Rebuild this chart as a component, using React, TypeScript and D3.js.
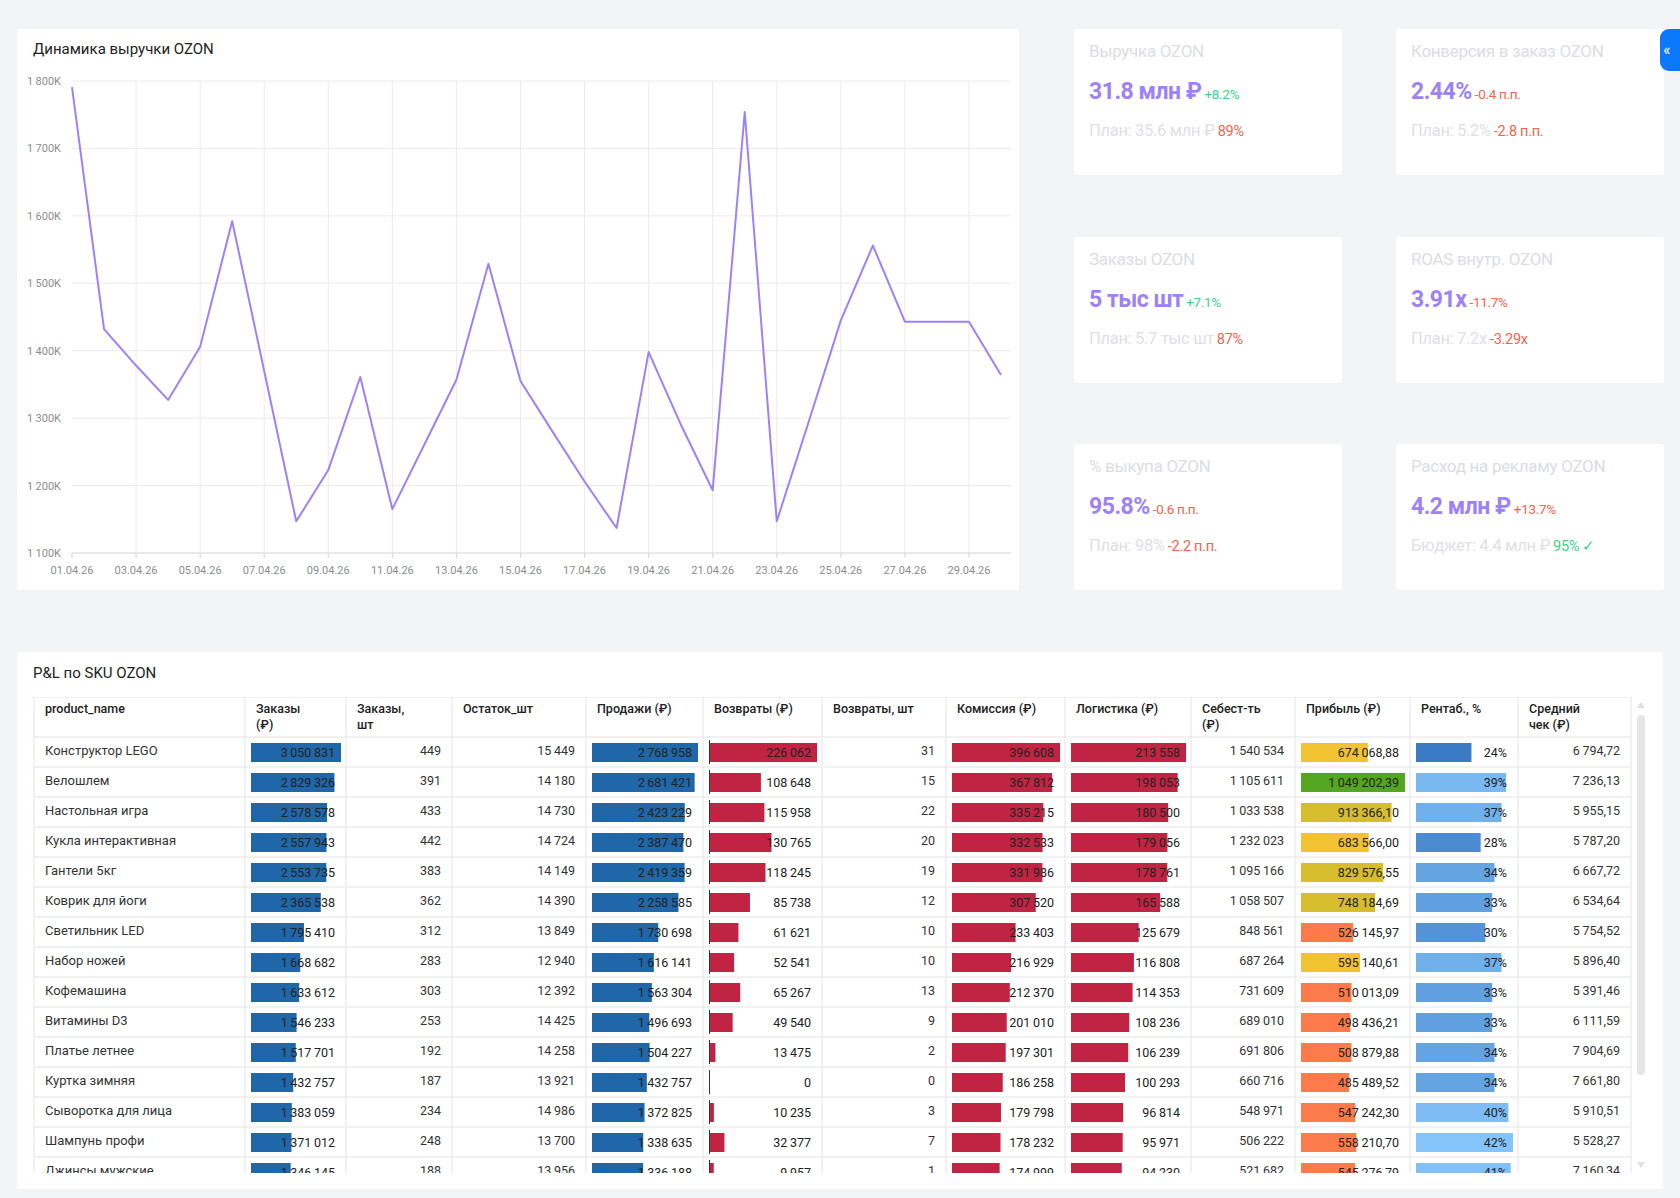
import React from "react";
import * as d3 from "d3";

// ---- line chart data (thousands of rubles per day)
const days = [
	"01.04.26", "02.04.26", "03.04.26", "04.04.26", "05.04.26", "06.04.26", "07.04.26", "08.04.26", "09.04.26", "10.04.26",
	"11.04.26", "12.04.26", "13.04.26", "14.04.26", "15.04.26", "16.04.26", "17.04.26", "18.04.26", "19.04.26", "20.04.26",
	"21.04.26", "22.04.26", "23.04.26", "24.04.26", "25.04.26", "26.04.26", "27.04.26", "28.04.26", "29.04.26", "30.04.26",
];
const revenueK = [
	1791, 1432, 1378, 1327, 1406, 1592, 1370, 1147, 1223, 1361,
	1165, 1261, 1357, 1529, 1355, 1280, 1206, 1137, 1398, 1291,
	1193, 1754, 1147, 1295, 1445, 1556, 1443, 1443, 1443, 1364,
];
const yTicks = [1100, 1200, 1300, 1400, 1500, 1600, 1700, 1800];

// ---- KPI cards
const kpiTitles = ["Выручка OZON", "Конверсия в заказ OZON", "Заказы OZON", "ROAS внутр. OZON", "% выкупа OZON", "Расход на рекламу OZON"];
const kpiValues = ["31.8 млн ₽", "2.44%", "5 тыс шт", "3.91x", "95.8%", "4.2 млн ₽"];
const kpiDeltas = ["+8.2%", "-0.4 п.п.", "+7.1%", "-11.7%", "-0.6 п.п.", "+13.7%"];
const kpiDeltaOk = [true, false, true, false, false, false];
const kpiPlans = ["План: 35.6 млн ₽", "План: 5.2%", "План: 5.7 тыс шт", "План: 7.2x", "План: 98%", "Бюджет: 4.4 млн ₽"];
const kpiPlanDeltas = ["89%", "-2.8 п.п.", "87%", "-3.29x", "-2.2 п.п.", "95% ✓"];
const kpiPlanOk = [false, false, false, false, false, true];

// ---- P&L table
const tableHeaders = [
	["product_name"], ["Заказы", "(₽)"], ["Заказы,", "шт"], ["Остаток_шт"], ["Продажи (₽)"], ["Возвраты (₽)"],
	["Возвраты, шт"], ["Комиссия (₽)"], ["Логистика (₽)"], ["Себест-ть", "(₽)"], ["Прибыль (₽)"], ["Рентаб., %"], ["Средний", "чек (₽)"],
];
const products = [
	"Конструктор LEGO", "Велошлем", "Настольная игра", "Кукла интерактивная", "Гантели 5кг", "Коврик для йоги", "Светильник LED",
	"Набор ножей", "Кофемашина", "Витамины D3", "Платье летнее", "Куртка зимняя", "Сыворотка для лица", "Шампунь профи", "Джинсы мужские",
];
const ordersRub = [3050831, 2829326, 2578578, 2557943, 2553735, 2365538, 1795410, 1668682, 1633612, 1546233, 1517701, 1432757, 1383059, 1371012, 1346145];
const ordersQty = [449, 391, 433, 442, 383, 362, 312, 283, 303, 253, 192, 187, 234, 248, 188];
const stockQty = [15449, 14180, 14730, 14724, 14149, 14390, 13849, 12940, 12392, 14425, 14258, 13921, 14986, 13700, 13956];
const salesRub = [2768958, 2681421, 2423229, 2387470, 2419359, 2258585, 1730698, 1616141, 1563304, 1496693, 1504227, 1432757, 1372825, 1338635, 1336188];
const returnsRub = [226062, 108648, 115958, 130765, 118245, 85738, 61621, 52541, 65267, 49540, 13475, 0, 10235, 32377, 9957];
const returnsQty = [31, 15, 22, 20, 19, 12, 10, 10, 13, 9, 2, 0, 3, 7, 1];
const commissionRub = [396608, 367812, 335215, 332533, 331986, 307520, 233403, 216929, 212370, 201010, 197301, 186258, 179798, 178232, 174999];
const logisticsRub = [213558, 198053, 180500, 179056, 178761, 165588, 125679, 116808, 114353, 108236, 106239, 100293, 96814, 95971, 94230];
const costRub = [1540534, 1105611, 1033538, 1232023, 1095166, 1058507, 848561, 687264, 731609, 689010, 691806, 660716, 548971, 506222, 521682];
const profitRub = [674068.88, 1049202.39, 913366.1, 683566.0, 829576.55, 748184.69, 526145.97, 595140.61, 510013.09, 498436.21, 508879.88, 485489.52, 547242.3, 558210.7, 545276.79];
const marginPct = [24, 39, 37, 28, 34, 33, 30, 37, 33, 33, 34, 34, 40, 42, 41];
const avgCheckRub = [6794.72, 7236.13, 5955.15, 5787.2, 6667.72, 6534.64, 5754.52, 5896.4, 5391.46, 6111.59, 7904.69, 7661.8, 5910.51, 5528.27, 7160.34];

const W = 1680;
const H = 1198;
const FONT = "Roboto, 'Noto Sans', sans-serif";
const PURPLE = "#9d82f5";
const GREEN = "#3ccf8e";
const RED = "#f4634c";

const ru = d3.formatLocale({ decimal: ",", thousands: "\u2009", grouping: [3], currency: ["", ""] });
const fmtInt = ru.format(",d");
const fmt2 = ru.format(",.2f");
const fmtK = (v: number) => ru.format(",d")(v) + "K";
const fmtPct = (v: number) => v + "%";

const RevenueChart = () => {
	const x = d3.scalePoint<string>().domain(days).range([72, 1001]);
	const y = d3.scaleLinear().domain([1100, 1800]).range([553, 81]);
	const line = d3
		.line<number>()
		.x((_, i) => x(days[i]) as number)
		.y((d) => y(d));
	const tickDays = days.filter((_, i) => i % 2 === 0);

	return (
		<g>
			<rect x={17} y={29} width={1002} height={561} fill="#fff" rx={2} />
			<text x={33} y={54} fontSize={15} fill="#222">Динамика выручки OZON</text>
			{yTicks.map((t) => (
				<g key={t}>
					<line x1={72} x2={1011} y1={y(t)} y2={y(t)} stroke={t === 1100 ? "#d3d3d3" : "#ebebeb"} />
					<text x={61} y={y(t) + 4} fontSize={11} fill="#8c8c8c" textAnchor="end">{fmtK(t)}</text>
				</g>
			))}
			{tickDays.map((d) => (
				<g key={d}>
					{d !== days[0] && <line x1={x(d)} x2={x(d)} y1={81} y2={553} stroke="#ebebeb" />}
					<line x1={x(d)} x2={x(d)} y1={553} y2={558} stroke="#d3d3d3" />
					<text x={x(d)} y={574} fontSize={11} fill="#8c8c8c" textAnchor="middle">{d}</text>
				</g>
			))}
			<path d={line(revenueK) || ""} fill="none" stroke={PURPLE} strokeWidth={2} strokeLinejoin="round" />
		</g>
	);
};

const KpiCards = () => {
	const colX = [1074, 1396];
	const rowY = [29, 237, 444];
	return (
		<g>
			{kpiTitles.map((title, i) => {
				const cx = colX[i % 2];
				const cy = rowY[Math.floor(i / 2)];
				return (
					<g key={title}>
						<rect x={cx} y={cy} width={268} height={146} fill="#fff" rx={3} />
						<text x={cx + 15} y={cy + 28} fontSize={17} fill="#dcdde2" letterSpacing={-0.3}>{title}</text>
						<text x={cx + 15} y={cy + 70}>
							<tspan fontSize={23} fontWeight={700} fill={PURPLE} letterSpacing={-0.5}>{kpiValues[i]}</tspan>
							<tspan dx={3} fontSize={13.5} fill={kpiDeltaOk[i] ? GREEN : RED} letterSpacing={-0.3}>{kpiDeltas[i]}</tspan>
						</text>
						<text x={cx + 15} y={cy + 107}>
							<tspan fontSize={16.5} fill="#dfe0e4" letterSpacing={-0.3}>{kpiPlans[i]}</tspan>
							<tspan dx={3} fontSize={14.5} fill={kpiPlanOk[i] ? GREEN : RED} letterSpacing={-0.3}>{kpiPlanDeltas[i]}</tspan>
						</text>
					</g>
				);
			})}
			<rect x={1660} y={29} width={36} height={42} rx={9} fill="#0b77fb" />
			<text x={1663} y={55} fontSize={16} fill="#fff">«</text>
		</g>
	);
};

const profitColor = d3.scaleThreshold<number, string>().domain([580000, 700000, 1000000]).range(["#fd7a4a", "#f1c232", "#d6bd2e", "#54a51f"]);
const marginColor = d3.scaleLinear<string>().domain([24, 42]).range(["#3b7bc5", "#85c4fa"]);

type Col = { values?: number[]; fmt?: (v: number) => string; bar?: string | ((v: number) => string); axis?: boolean };

const PnlTable = () => {
	const edges = [34, 245, 346, 452, 586, 703, 822, 946, 1065, 1191, 1295, 1410, 1518, 1631];
	const top = 697;
	const headH = 40;
	const bodyTop = top + headH;
	const clipBottom = 1173;
	const rowY = d3.scaleBand<string>().domain(products).range([bodyTop, bodyTop + products.length * 30]);
	const blue = "#1f67a8";
	const crimson = "#c12443";

	const cols: Col[] = [
		{},
		{ values: ordersRub, fmt: fmtInt, bar: blue },
		{ values: ordersQty, fmt: fmtInt },
		{ values: stockQty, fmt: fmtInt },
		{ values: salesRub, fmt: fmtInt, bar: blue },
		{ values: returnsRub, fmt: fmtInt, bar: crimson, axis: true },
		{ values: returnsQty, fmt: fmtInt },
		{ values: commissionRub, fmt: fmtInt, bar: crimson },
		{ values: logisticsRub, fmt: fmtInt, bar: crimson },
		{ values: costRub, fmt: fmtInt },
		{ values: profitRub, fmt: fmt2, bar: (v) => profitColor(v) },
		{ values: marginPct, fmt: fmtPct, bar: (v) => marginColor(v) },
		{ values: avgCheckRub, fmt: fmt2 },
	];

	return (
		<g>
			<rect x={17} y={652} width={1646} height={537} fill="#fff" rx={2} />
			<text x={33} y={678} fontSize={15} fill="#222">P&amp;L по SKU OZON</text>
			<defs>
				<clipPath id="tbl-clip">
					<rect x={0} y={top} width={W} height={clipBottom - top} />
				</clipPath>
			</defs>
			<g clipPath="url(#tbl-clip)">
				{/* header */}
				{tableHeaders.map((lines, c) => (
					<text key={c} x={edges[c] + 11} y={top + 16} fontSize={12.5} fill="#222" fontWeight={500}>
						{lines.map((ln, k) => (
							<tspan key={k} x={edges[c] + 11} dy={k === 0 ? 0 : 16}>{ln}</tspan>
						))}
					</text>
				))}
				{/* body */}
				{products.map((p, r) => {
					const ry = rowY(p) as number;
					return (
						<g key={p}>
							<text x={edges[0] + 11} y={ry + 18} fontSize={13} fill="#333">{p}</text>
							{cols.map((col, c) => {
								if (!col.values) return null;
								const v = col.values[r];
								const x0 = edges[c];
								const x1 = edges[c + 1];
								if (!col.bar) {
									return (
										<text key={c} x={x1 - 11} y={ry + 18} fontSize={12.5} fill="#333" textAnchor="end">{col.fmt!(v)}</text>
									);
								}
								const scale = d3.scaleLinear().domain([0, d3.max(col.values) as number]).range([0, x1 - x0 - 11]);
								const fill = typeof col.bar === "string" ? col.bar : col.bar(v);
								return (
									<g key={c}>
										<rect x={x0 + 6} y={ry + 6} width={scale(v)} height={19} fill={fill} />
										{col.axis && <line x1={x0 + 6.5} x2={x0 + 6.5} y1={ry + 3} y2={ry + 27} stroke="#333" />}
										<text x={x1 - 11} y={ry + 20} fontSize={12.5} fill="#222" textAnchor="end">{col.fmt!(v)}</text>
									</g>
								);
							})}
						</g>
					);
				})}
				{/* grid */}
				<line x1={edges[0]} x2={edges[edges.length - 1]} y1={top} y2={top} stroke="#e4e4e4" />
				{products.map((p) => (
					<line key={p} x1={edges[0]} x2={edges[edges.length - 1]} y1={rowY(p)} y2={rowY(p)} stroke="#e4e4e4" />
				))}
				{edges.map((e) => (
					<line key={e} x1={e} x2={e} y1={top} y2={clipBottom} stroke="#e4e4e4" />
				))}
			</g>
			{/* scrollbar */}
			<path d="M1637,708 L1645,708 L1641,702 Z" fill="#e0e0e0" />
			<rect x={1637} y={715} width={8} height={360} rx={4} fill="#e6e6e6" />
			<path d="M1637,1162 L1645,1162 L1641,1168 Z" fill="#e0e0e0" />
		</g>
	);
};

export default function App() {
	return (
		<svg width={W} height={H} viewBox={`0 0 ${W} ${H}`} style={{ position: "absolute", left: 0, top: 0, display: "block" }} fontFamily={FONT}>
			<rect width={W} height={H} fill="#f3f4f6" />
			<RevenueChart />
			<KpiCards />
			<PnlTable />
		</svg>
	);
}
